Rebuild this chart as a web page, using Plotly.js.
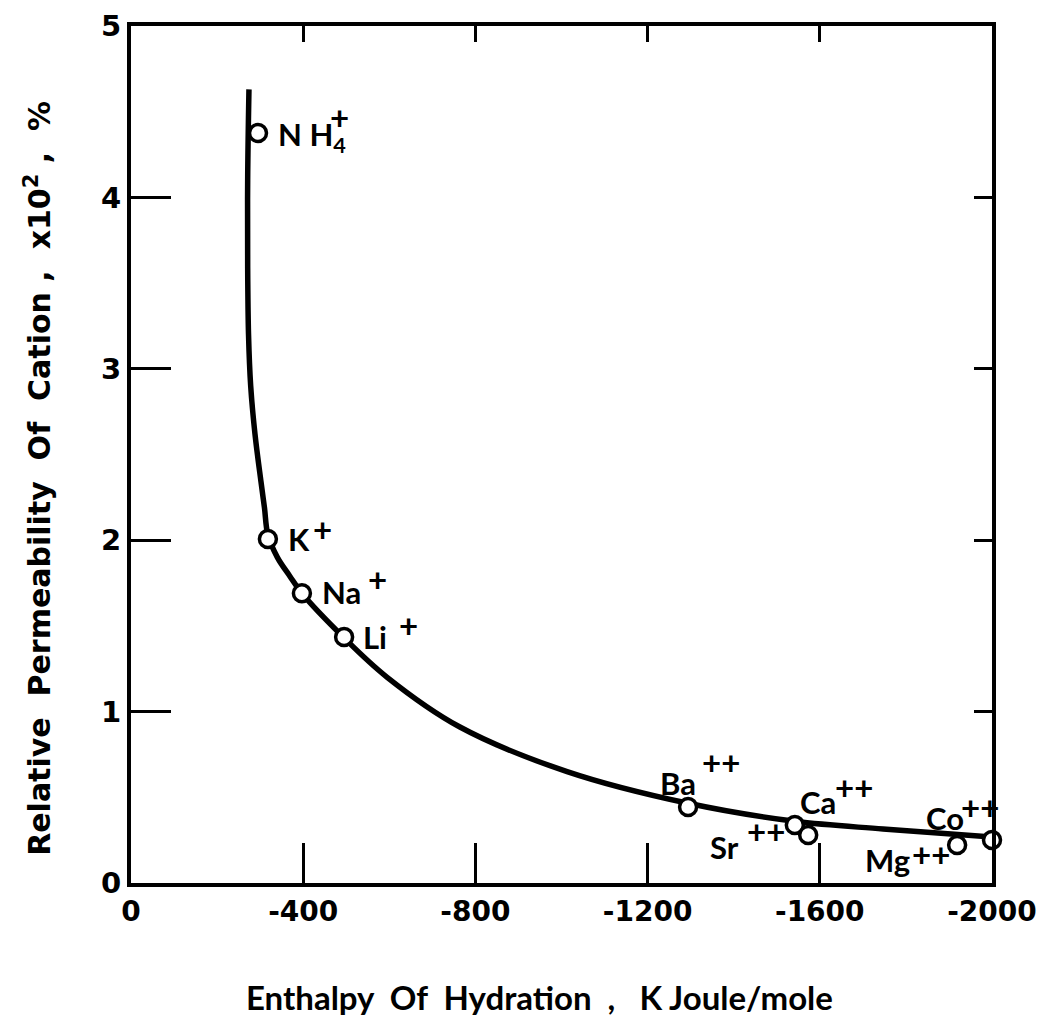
<!DOCTYPE html>
<html>
<head>
<meta charset="utf-8">
<script src="https://cdn.plot.ly/plotly-3.0.1.min.js"></script>
<style>
  html, body { margin: 0; padding: 0; background: #fff; }
  #chart { width: 1037px; height: 1021px; }
</style>
</head>
<body>
<div id="chart"></div>
<script>
// Cations: enthalpy of hydration (kJ/mole) vs relative permeability (x10^2, %)
const ionNames = ["N H<sub>4</sub>", "K", "Na", "Li", "Ba", "Sr", "Ca", "Mg", "Co"];
const ionCharges = ["+", "+", "+", "+", "++", "++", "++", "++", "++"];
const ionEnthalpy = [-295, -318, -397, -495, -1294, -1542, -1573, -1919, -2000];
const ionPermeability = [4.376, 2.007, 1.69, 1.435, 0.443, 0.338, 0.28, 0.222, 0.251];

// Smooth trend curve through the cations
const curveEnthalpy = [-274, -271, -271, -273, -278, -288, -302, -310, -318, -340, -369, -397, -495, -595, -764, -1013, -1294, -1542, -1747, -2000];
const curvePermeability = [4.63, 4.1, 3.6, 3.2, 2.9, 2.62, 2.34, 2.19, 2.03, 1.9, 1.79, 1.69, 1.43, 1.2, 0.91, 0.65, 0.465, 0.36, 0.315, 0.268];

const xTickValues = [0, -400, -800, -1200, -1600, -2000];
const xTickText = ["0", "-400", "-800", "-1200", "-1600", "-2000"];
const yTickValues = [0, 1, 2, 3, 4, 5];
const yTickText = ["0", "1", "2", "3", "4", "5"];
const xInnerTicks = [-400, -800, -1200, -1600];
const yInnerTicks = [1, 2, 3, 4];

// Label placement relative to each marker, in screen pixels (dx right, dy down)
const namePlacement = [[18, 4], [18, 0], [18, -1], [17, 0], [-30, -24], [-87, 22], [-10, -33], [-94, 15], [-68, -22]];
const chargePlacement = [[70, -16], [43, -10], [64, -14], [53, -12], [12, -45], [-50, 6], [25, -48], [-47, 9], [-33, -33]];

const FONT = "Lato, sans-serif";
const WIDE = "'DejaVu Sans', sans-serif";
const NB = "\u00a0";

const annotations = [];
ionNames.forEach((name, i) => {
  annotations.push({
    x: ionEnthalpy[i], y: ionPermeability[i], xref: "x", yref: "y",
    text: name, showarrow: false, xanchor: "left", yanchor: "middle",
    xshift: namePlacement[i][0], yshift: -namePlacement[i][1],
    font: { family: FONT, size: 31, weight: 700, color: "#000" }
  });
  annotations.push({
    x: ionEnthalpy[i], y: ionPermeability[i], xref: "x", yref: "y",
    text: ionCharges[i], showarrow: false, xanchor: "left", yanchor: "middle",
    xshift: chargePlacement[i][0], yshift: -chargePlacement[i][1],
    font: { family: FONT, size: 33, weight: 700, color: "#000" }
  });
});

// Axis titles
annotations.push({
  xref: "paper", yref: "paper", x: 0.475, y: -0.133,
  text: "Enthalpy" + NB + " Of" + NB + " Hydration" + NB + " ," + NB + NB + " K Joule/mole", showarrow: false,
  xanchor: "center", yanchor: "middle",
  font: { family: FONT, size: 33, weight: 700, color: "#000" }
});
annotations.push({
  xref: "paper", yref: "paper", x: -0.107, y: 0.4726,
  text: "Relative" + NB + " Permeability" + NB + " Of" + NB + " Cation ," + NB + " x10<sup>2</sup> ," + NB + " %", showarrow: false,
  textangle: -90, xanchor: "center", yanchor: "middle",
  font: { family: WIDE, size: 30, weight: 700, color: "#000" }
});

const traces = [
  {
    x: curveEnthalpy, y: curvePermeability, type: "scatter", mode: "lines",
    line: { color: "#000", width: 5.5, shape: "spline", smoothing: 1 },
    hoverinfo: "skip", cliponaxis: false
  },
  {
    x: ionEnthalpy, y: ionPermeability, type: "scatter", mode: "markers",
    marker: { symbol: "circle", size: 17, color: "#fff", line: { color: "#000", width: 3.5 } },
    cliponaxis: false
  },
  {
    // carries the short top and right tick axes
    x: ionEnthalpy, y: ionPermeability, xaxis: "x2", yaxis: "y2",
    type: "scatter", mode: "markers", marker: { opacity: 0 }, hoverinfo: "skip"
  }
];

const layout = {
  width: 1037, height: 1021,
  margin: { l: 131, r: 45, t: 26, b: 138, pad: 0 },
  paper_bgcolor: "#fff", plot_bgcolor: "rgba(0,0,0,0)",
  showlegend: false,
  annotations: annotations,
  xaxis: {
    range: [0, -2000], tickmode: "array", tickvals: xTickValues, ticktext: xTickText,
    ticks: "inside", ticklen: 40, tickwidth: 3, tickcolor: "#000",
    showline: true, linewidth: 4, linecolor: "#000", mirror: true,
    showgrid: false, zeroline: false, ticklabeloverflow: "allow",
    tickfont: { family: WIDE, size: 28, weight: 700, color: "#000" }
  },
  yaxis: {
    range: [0, 5], tickmode: "array", tickvals: yTickValues, ticktext: yTickText,
    ticks: "inside", ticklen: 40, tickwidth: 3, tickcolor: "#000",
    showline: true, linewidth: 4, linecolor: "#000", mirror: true,
    showgrid: false, zeroline: false, ticklabeloverflow: "allow",
    tickfont: { family: WIDE, size: 29, weight: 700, color: "#000" }
  },
  xaxis2: {
    overlaying: "x", side: "top", anchor: "y2", range: [0, -2000],
    tickmode: "array", tickvals: xInnerTicks,
    ticks: "inside", ticklen: 16, tickwidth: 3, tickcolor: "#000",
    showticklabels: false, showline: false, showgrid: false, zeroline: false
  },
  yaxis2: {
    overlaying: "y", side: "right", anchor: "x2", range: [0, 5],
    tickmode: "array", tickvals: yInnerTicks,
    ticks: "inside", ticklen: 18, tickwidth: 3, tickcolor: "#000",
    showticklabels: false, showline: false, showgrid: false, zeroline: false
  }
};

Plotly.newPlot("chart", traces, layout, { staticPlot: true, displayModeBar: false });
</script>
</body>
</html>
